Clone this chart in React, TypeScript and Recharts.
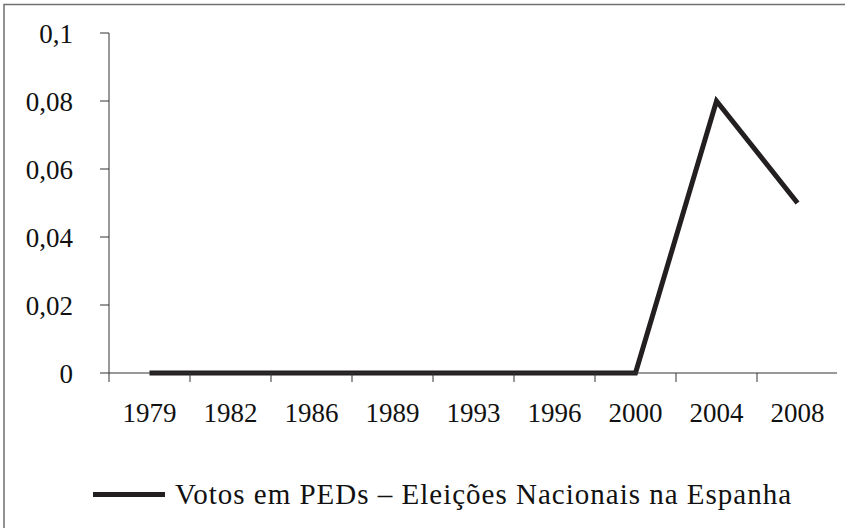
import { Line, LineChart, Legend, XAxis, YAxis } from "recharts";

const YEARS = ["1979", "1982", "1986", "1989", "1993", "1996", "2000", "2004", "2008"];
const VOTES = [0, 0, 0, 0, 0, 0, 0, 0.08, 0.05];
const Y_TICKS = [0, 0.02, 0.04, 0.06, 0.08, 0.1];
const SERIES_NAME = "Votos em PEDs – Eleições Nacionais na Espanha";

const FONT = "'Liberation Serif', 'DejaVu Serif', serif";
const INK = "#231f20";
const AXIS_INK = "#333333";
const FRAME = "#707070";

const rows = YEARS.map((year, i) => ({ pos: i + 0.5, year, value: VOTES[i] }));
const boundaries = YEARS.map((_, i) => i).concat(YEARS.length);

const W = 845;
const H = 528;
const MARGIN = { top: 33, right: 7, bottom: 45, left: 0 };
const Y_WIDTH = 109;
const BAND = (W - MARGIN.left - MARGIN.right - Y_WIDTH) / YEARS.length;

function YearTick(props: any) {
  const { x, y, index } = props;
  const label = YEARS[index];
  return (
    <g>
      <line x1={x} x2={x} y1={y} y2={y + 9} stroke={AXIS_INK} strokeWidth={1} />
      {label && (
        <text x={x + BAND / 2} y={y + 49} textAnchor="middle" fill="#111" fontSize={27} fontFamily={FONT}>
          {label}
        </text>
      )}
    </g>
  );
}

function LegendBox() {
  return (
    <div style={{ display: "flex", alignItems: "center", height: 40, fontFamily: FONT, fontSize: 29, letterSpacing: 1, color: "#111" }}>
      <div style={{ width: 72, height: 5, background: INK, marginRight: 10 }} />
      <span style={{ whiteSpace: "nowrap" }}>{SERIES_NAME}</span>
    </div>
  );
}

export default function App() {
  return (
    <div style={{ margin: -8, width: W, height: H, background: "#fff" }}>
      <svg width={W} height={H} style={{ position: "absolute", left: 0, top: 0, pointerEvents: "none", zIndex: 2 }}>
        <path d={`M 4 ${H} L 4 4.5 L ${W} 4.5`} fill="none" stroke={FRAME} strokeWidth={1.5} />
      </svg>
      <LineChart width={W} height={H} data={rows} margin={MARGIN}>
        <XAxis
          type="number"
          dataKey="pos"
          domain={[0, YEARS.length]}
          ticks={boundaries}
          interval={0}
          height={70}
          tickSize={0}
          tickMargin={0}
          tickLine={false}
          axisLine={{ stroke: AXIS_INK, strokeWidth: 1 }}
          tick={<YearTick />}
        />
        <YAxis
          type="number"
          domain={[0, 0.1]}
          ticks={Y_TICKS}
          interval={0}
          width={Y_WIDTH}
          tickSize={9}
          tickMargin={27}
          axisLine={{ stroke: AXIS_INK, strokeWidth: 1 }}
          tickLine={{ stroke: AXIS_INK, strokeWidth: 1 }}
          tickFormatter={(v) => String(v).replace(".", ",")}
          tick={{ fill: "#111", fontSize: 27, fontFamily: FONT }}
        />
        <Legend
          verticalAlign="bottom"
          content={<LegendBox />}
          wrapperStyle={{ position: "absolute", left: 93, top: 474, width: "auto" }}
        />
        <Line
          type="linear"
          dataKey="value"
          name={SERIES_NAME}
          stroke={INK}
          strokeWidth={5}
          strokeLinejoin="miter"
          strokeLinecap="butt"
          dot={false}
          activeDot={false}
          isAnimationActive={false}
        />
      </LineChart>
    </div>
  );
}
